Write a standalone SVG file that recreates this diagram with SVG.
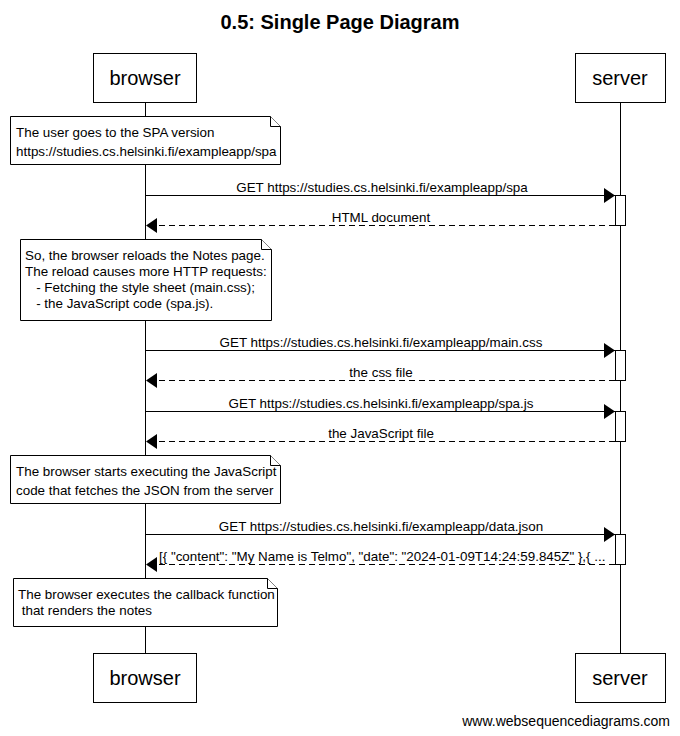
<svg xmlns="http://www.w3.org/2000/svg" width="680" height="736" viewBox="0 0 680 736">
<style>
text{font-family:"Liberation Sans",Arial,sans-serif;fill:#000}
.title{font-size:20px;font-weight:bold;text-anchor:middle}
.actor{font-size:20px;text-anchor:middle}
.box{fill:#fff;stroke:#000;stroke-width:1}
.life{stroke:#000;stroke-width:1;fill:none}
.note{fill:#fff;stroke:#000;stroke-width:1}
.nt{font-size:13.4px}
.lbl{font-size:13.4px;text-anchor:middle}
.msg{stroke:#000;stroke-width:1;fill:none}
.ret{stroke:#000;stroke-width:1;fill:none;stroke-dasharray:6,4}
.act{fill:#fff;stroke:#000;stroke-width:1}
</style>
<defs>
<marker id="ah" markerWidth="12" markerHeight="16" refX="11" refY="7.5" orient="auto" markerUnits="userSpaceOnUse">
<path d="M0,0 L11,7.5 L0,15 Z" fill="#000"/>
</marker>
</defs>
<text class="title" x="340" y="29">0.5: Single Page Diagram</text>

<g id="lifelines">
<line class="life" x1="145.5" y1="102" x2="145.5" y2="653"/>
<line class="life" x1="620.5" y1="102" x2="620.5" y2="653"/>
</g>

<g id="browser">
<rect class="box" x="93.5" y="53.5" width="103" height="49"/>
<text class="actor" x="145" y="85">browser</text>
</g>
<g id="server">
<rect class="box" x="575.5" y="53.5" width="90" height="49"/>
<text class="actor" x="620" y="85">server</text>
</g>
<g id="browser-bottom">
<rect class="box" x="93.5" y="653.5" width="103" height="49"/>
<text class="actor" x="145" y="685">browser</text>
</g>
<g id="server-bottom">
<rect class="box" x="575.5" y="653.5" width="90" height="49"/>
<text class="actor" x="620" y="685">server</text>
</g>

<g id="activations">
<rect class="act" x="615.5" y="195.5" width="10" height="30"/>
<rect class="act" x="615.5" y="350.5" width="10" height="30"/>
<rect class="act" x="615.5" y="411.5" width="10" height="30"/>
<rect class="act" x="615.5" y="534.5" width="10" height="30"/>
</g>

<g id="note1">
<path class="note" d="M10.5,116.5 H270.5 L280.5,126.5 V164.5 H10.5 Z"/>
<path class="note" d="M270.5,116.5 V126.5 H280.5" fill="none"/>
<text class="nt" x="16" y="137">The user goes to the SPA version</text>
<text class="nt" x="16" y="156">https://studies.cs.helsinki.fi/exampleapp/spa</text>
</g>
<g id="note2">
<path class="note" d="M20.5,239.5 H261.5 L271.5,249.5 V320.5 H20.5 Z"/>
<path class="note" d="M261.5,239.5 V249.5 H271.5" fill="none"/>
<text class="nt" x="25" y="260">So, the browser reloads the Notes page.</text>
<text class="nt" x="25" y="276">The reload causes more HTTP requests:</text>
<text class="nt" x="25" y="292" xml:space="preserve">   - Fetching the style sheet (main.css);</text>
<text class="nt" x="25" y="308" xml:space="preserve">   - the JavaScript code (spa.js).</text>
</g>
<g id="note3">
<path class="note" d="M10.5,455.5 H270.5 L280.5,465.5 V503.5 H10.5 Z"/>
<path class="note" d="M270.5,455.5 V465.5 H280.5" fill="none"/>
<text class="nt" x="16" y="476">The browser starts executing the JavaScript</text>
<text class="nt" x="16" y="495">code that fetches the JSON from the server</text>
</g>
<g id="note4">
<path class="note" d="M13.5,578.5 H267.5 L277.5,588.5 V626.5 H13.5 Z"/>
<path class="note" d="M267.5,578.5 V588.5 H277.5" fill="none"/>
<text class="nt" x="18" y="599">The browser executes the callback function</text>
<text class="nt" x="18" y="615" xml:space="preserve"> that renders the notes</text>
</g>

<g id="connectors">
<line class="msg" x1="146" y1="195.5" x2="615" y2="195.5" marker-end="url(#ah)"/>
<text class="lbl" x="382" y="192">GET https://studies.cs.helsinki.fi/exampleapp/spa</text>
<line class="ret" x1="615" y1="225.5" x2="146" y2="225.5" marker-end="url(#ah)"/>
<text class="lbl" x="381" y="222">HTML document</text>

<line class="msg" x1="146" y1="350.5" x2="615" y2="350.5" marker-end="url(#ah)"/>
<text class="lbl" x="381" y="347">GET https://studies.cs.helsinki.fi/exampleapp/main.css</text>
<line class="ret" x1="615" y1="380.5" x2="146" y2="380.5" marker-end="url(#ah)"/>
<text class="lbl" x="381" y="377">the css file</text>

<line class="msg" x1="146" y1="411.5" x2="615" y2="411.5" marker-end="url(#ah)"/>
<text class="lbl" x="381" y="408">GET https://studies.cs.helsinki.fi/exampleapp/spa.js</text>
<line class="ret" x1="615" y1="441.5" x2="146" y2="441.5" marker-end="url(#ah)"/>
<text class="lbl" x="381" y="438">the JavaScript file</text>

<line class="msg" x1="146" y1="534.5" x2="615" y2="534.5" marker-end="url(#ah)"/>
<text class="lbl" x="381" y="531">GET https://studies.cs.helsinki.fi/exampleapp/data.json</text>
<line class="ret" x1="615" y1="564.5" x2="146" y2="564.5" marker-end="url(#ah)"/>
<text class="nt" x="159" y="561">[{ "content": "My Name is Telmo", "date": "2024-01-09T14:24:59.845Z" },{ ...</text>
</g>

<text x="670" y="726" style="font-size:14px;text-anchor:end">www.websequencediagrams.com</text>
</svg>
